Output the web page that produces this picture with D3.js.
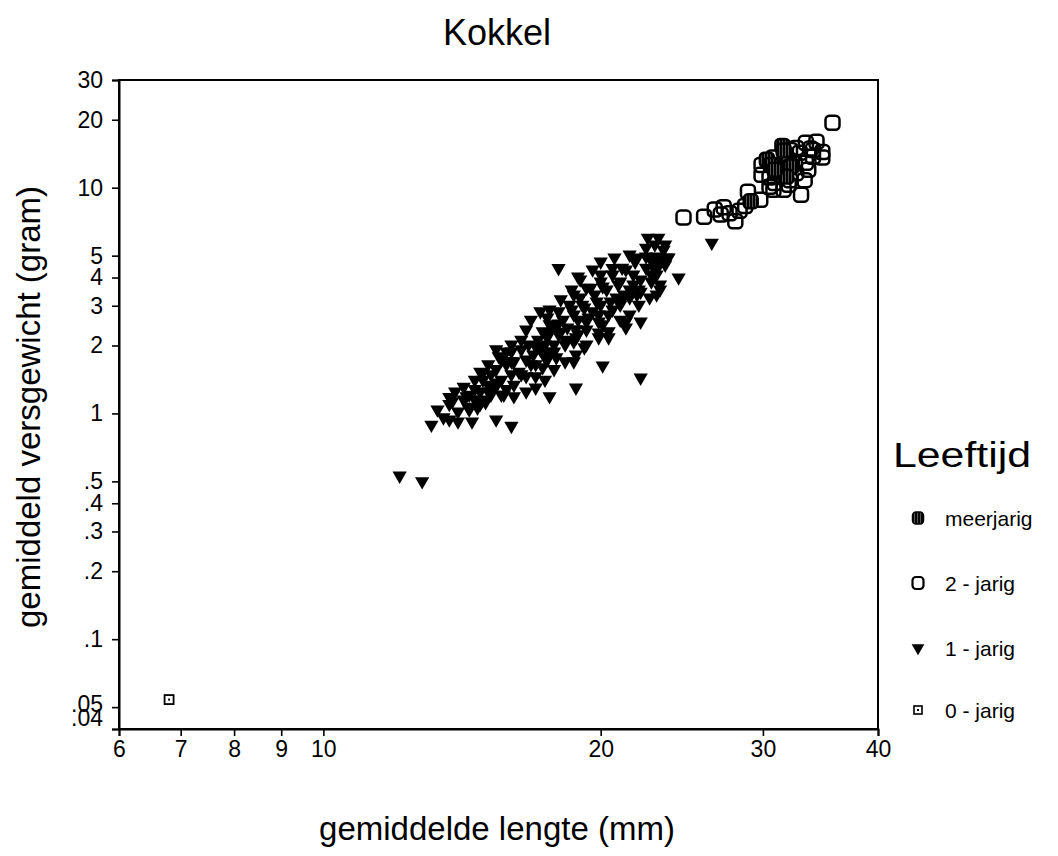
<!DOCTYPE html>
<html><head><meta charset="utf-8">
<script src="https://cdn.jsdelivr.net/npm/d3@7"></script>
<style>
body{margin:0;background:#fff;}
text{font-family:"Liberation Sans",Arial,sans-serif;fill:#000;}
</style></head>
<body><svg id="c" width="1058" height="856"></svg>
<script>
// ---- data ----
const title = "Kokkel";
const xTitle = "gemiddelde lengte (mm)";
const yTitle = "gemiddeld versgewicht (gram)";
const legendTitle = "Leeftijd";
const seriesNames = ["meerjarig", "2 - jarig", "1 - jarig", "0 - jarig"];
const xTicks = [6, 7, 8, 9, 10, 20, 30, 40];
const yTicks = [30, 20, 10, 5, 4, 3, 2, 1, 0.5, 0.4, 0.3, 0.2, 0.1, 0.05, 0.04];
const yTickLabels = ["30","20","10","5","4","3","2","1",".5",".4",".3",".2",".1",".05",".04"];

const len0 = [6.8];
const wt0  = [0.054];

const len1 = [12.1,12.8,13.1,13.7,14.0,14.5,15.4,16.0,13.7,14.3,14.35,14.7,14.6,15.0,14.9,15.2,15.4,15.7,16.1,17.6,15.5,16.0,16.6,17.0,17.0,17.5,17.5,18.0,
  18.8,20.1,22.1,26.4,24.3,
  22.5,23.1,18.0,18.9,20.0,20.6,21.3,21.9,22.4,23.0,23.4,23.7,23.1,22.7,23.0,22.1,21.3,20.4,19.9,19.3,18.7,20.1,21.0,21.7,18.6,19.1,19.8,20.5,21.2,22.1,19.4,20.1,17.6,18.1,18.7,19.2,17.5,17.9,18.7,17.3,18.9,21.3,
  14.9,15.1,15.2,15.4,15.6,15.8,16.0,16.1,16.3,16.4,16.6,16.7,16.8,16.9,17.1,17.2,17.3,17.4,17.5,17.7,17.8,18.0,18.2,18.3,18.4,18.7,18.8,18.9,19.2,19.3,19.6,19.7,19.9,20.0,20.3,20.6,20.8,20.9,21.1,21.5,21.7,21.9,22.1,22.4,22.7,22.8,23.0,23.2,23.5,
  13.3,13.8,14.0,14.2,14.4,14.6,14.8,14.9,15.1,15.4,15.6,
  15.8,16.0,16.4,16.6,15.6,15.4,15.1,14.8,14.6,14.2,13.9,13.7,15.8,16.1,16.6,17.0,17.4,17.8,18.3,18.8,19.3,19.9,20.4,21.0,21.5,22.0,22.6,23.2,
  17.6,18.1,18.6,19.0,19.6,20.0,20.7,21.5,22.4,16.8,17.2,17.5,18.0,18.5,19.0,19.5,20.0,20.6,21.1,21.8,22.6,22.9,23.2,23.5,22.9,23.6,
  17.0,17.4,17.8,18.3,18.8,19.3,19.9,20.4,21.0,21.5,22.0,16.4,16.0,15.2,14.8,14.4,13.5];
const wt1 = [0.53,0.50,0.89,0.94,0.92,0.92,0.94,0.88,1.10,1.19,1.07,1.06,1.28,1.12,1.52,1.28,1.32,1.21,1.19,1.19,1.79,1.88,1.46,1.46,1.98,1.73,2.28,2.50,
  1.30,1.63,1.44,5.7,4.0,
  6.0,6.0,4.4,4.04,4.12,4.4,4.34,4.9,4.95,4.95,5.3,4.9,4.47,4.12,3.36,2.55,2.4,2.17,2.28,3.6,3.36,3.65,3.84,3.72,2.88,3.03,3.13,3.13,3.36,3.46,2.66,2.48,2.48,2.3,2.08,1.96,1.88,1.77,1.7,1.6,2.24,2.55,
  1.41,1.25,1.49,1.57,1.41,1.65,1.49,1.70,1.53,1.92,1.73,2.02,1.65,1.82,2.12,1.92,2.31,2.02,2.17,2.40,2.02,2.24,2.60,2.12,2.40,2.74,2.36,2.60,2.94,2.55,2.83,3.36,2.74,3.03,3.54,2.88,3.26,3.72,3.20,3.54,4.12,3.36,3.92,4.42,3.84,4.70,4.12,3.54,4.56,
  1.04,1.13,1.02,1.15,1.21,1.15,1.25,1.15,1.34,1.37,1.21,
  1.88,2.02,2.12,2.35,1.73,1.92,1.65,1.53,1.41,1.31,1.25,1.18,1.28,1.34,1.25,1.30,1.41,1.57,1.70,1.82,2.02,2.17,2.31,2.60,2.74,3.03,3.26,3.72,
  2.88,3.20,3.54,3.92,4.34,4.70,4.90,5.05,5.42,2.60,2.83,2.66,2.83,3.03,3.26,3.60,3.84,4.12,4.42,4.70,4.90,4.34,4.80,5.6,5.6,4.90,
  1.65,1.77,1.88,2.02,2.17,2.35,2.55,2.74,3.03,3.26,3.54,1.49,1.70,1.21,1.10,1.04,0.96];

const len2 = [24.6,25.9,26.6,27.2,27.6,28.0,28.7,29.8,28.9,33.0,30.5,30.9,31.6,32.1,30.5,31.4,32.6,29.9,30.8,32.0,32.9,33.4,32.6,33.4,34.3,34.8,34.8,34.0,35.7,33.6,32.1,31.2,30.8,27.0,28.3,31.0,32.5,33.8,31.0,32.1,34.0,29.9,32.0,33.3];
const wt2  = [7.37,7.44,8.0,8.2,7.7,7.1,8.3,8.85,9.6,9.3,10.1,10.5,9.8,10.8,11.1,11.4,11.6,12.6,13.6,13.3,14.3,12.9,15.0,15.8,16.0,14.4,13.6,13.7,19.4,12.0,12.4,12.3,9.8,7.6,7.9,11.8,12.8,14.9,12.6,14.7,14.7,11.4,10.3,10.8];

const len3 = [31.5,31.6,30.3,30.6,29.1,32.2,31.8,30.9];
const wt3  = [15.3,14.6,13.3,12.6,8.7,12.4,11.2,12.0];

// ---- chart ----
const svg = d3.select("#c");
const defs = svg.append("defs");
const pat = defs.append("pattern").attr("id","hatch").attr("patternUnits","userSpaceOnUse")
  .attr("width",3).attr("height",3);
pat.append("rect").attr("width",3).attr("height",3).attr("fill","#555");
pat.append("rect").attr("width",2).attr("height",3).attr("fill","#000");

const x = d3.scaleLog().domain([6, 40]).range([119, 878]);
const y = d3.scaleLog().domain([0.04, 30]).range([729, 80]);

// frame
svg.append("rect").attr("x",x.range()[0]).attr("y",y.range()[1])
  .attr("width",x.range()[1]-x.range()[0]).attr("height",y.range()[0]-y.range()[1])
  .attr("fill","none").attr("stroke","#000").attr("stroke-width",2);

const xAxis = svg.append("g").attr("transform",`translate(0,${y.range()[0]})`)
  .call(d3.axisBottom(x).tickValues(xTicks).tickFormat(d3.format("d")).tickSize(7).tickPadding(5));
const yAxis = svg.append("g").attr("transform",`translate(${x.range()[0]},0)`)
  .call(d3.axisLeft(y).tickValues(yTicks).tickFormat((d,i)=>yTickLabels[i]).tickSize(7).tickPadding(9));
[xAxis,yAxis].forEach(g=>{
  g.select(".domain").attr("stroke-width",2);
  g.selectAll(".tick line").attr("stroke-width",1.6);
  g.selectAll("text").attr("font-size",23).attr("font-family","Liberation Sans, Arial, sans-serif").attr("fill","#000");
});
// as in the original, the lowest label is pushed up and overlaps the one above
yAxis.selectAll(".tick text").filter(d=>d===0.04).attr("dy","-0.15em");
yAxis.selectAll(".tick text").filter(d=>d===0.05).attr("dy","0.2em");

// markers
const triPath = d3.symbol().type(d3.symbolTriangle).size(88)();
function tri(g, L, W){
  g.selectAll(null).data(L.map((l,i)=>[l,W[i]])).enter().append("path")
    .attr("d",triPath).attr("transform",d=>`translate(${x(d[0])},${y(d[1])}) rotate(180)`)
    .attr("fill","#000");
}
function sq(g, L, W, fill, s){
  g.selectAll(null).data(L.map((l,i)=>[l,W[i]])).enter().append("rect")
    .attr("x",d=>x(d[0])-s/2).attr("y",d=>y(d[1])-s/2).attr("width",s).attr("height",s)
    .attr("rx",4).attr("fill",fill).attr("stroke","#000").attr("stroke-width",2.5);
}
const pts = svg.append("g");
tri(pts, len1, wt1);
sq(pts, len2, wt2, "none", 14);
sq(pts, len3, wt3, "url(#hatch)", 14);
// 0-jarig
pts.selectAll(null).data(len0.map((l,i)=>[l,wt0[i]])).enter().append("g")
  .attr("transform",d=>`translate(${x(d[0])},${y(d[1])})`)
  .each(function(){
    const g=d3.select(this);
    g.append("rect").attr("x",-4.5).attr("y",-4.5).attr("width",9).attr("height",9).attr("fill","#fff").attr("stroke","#000").attr("stroke-width",1.8);
    g.append("rect").attr("x",-1).attr("y",-1).attr("width",2).attr("height",2).attr("fill","#000");
  });

// titles
svg.append("text").attr("x",497).attr("y",45).attr("text-anchor","middle").attr("font-size",36).text(title);
svg.append("text").attr("x",497).attr("y",840).attr("text-anchor","middle").attr("font-size",33).text(xTitle);
svg.append("text").attr("transform","translate(40,407) rotate(-90)").attr("text-anchor","middle").attr("font-size",33).text(yTitle);

// legend
const lg = svg.append("g");
lg.append("text").attr("x",893).attr("y",467).attr("font-size",35)
  .attr("textLength",138).attr("lengthAdjust","spacingAndGlyphs").text(legendTitle);
const ly = [518, 583, 648, 710];
seriesNames.forEach((name,i)=>{
  const g = lg.append("g").attr("transform",`translate(918,${ly[i]})`);
  if(i===0){
    g.append("rect").attr("x",-5.5).attr("y",-6).attr("width",11).attr("height",12).attr("rx",3.5).attr("fill","url(#hatch)").attr("stroke","#000").attr("stroke-width",1.5);
  } else if(i===1){
    g.append("rect").attr("x",-5.5).attr("y",-6).attr("width",11).attr("height",12).attr("rx",3.5).attr("fill","none").attr("stroke","#000").attr("stroke-width",2.2);
  } else if(i===2){
    g.append("path").attr("d",d3.symbol().type(d3.symbolTriangle).size(70)()).attr("transform","rotate(180)").attr("fill","#000");
  } else {
    g.append("rect").attr("x",-4).attr("y",-4).attr("width",8).attr("height",8).attr("fill","#fff").attr("stroke","#000").attr("stroke-width",1.6);
    g.append("rect").attr("x",-1).attr("y",-1).attr("width",2).attr("height",2).attr("fill","#000");
  }
  lg.append("text").attr("x",945).attr("y",ly[i]+8).attr("font-size",21).text(name);
});
</script></body></html>
